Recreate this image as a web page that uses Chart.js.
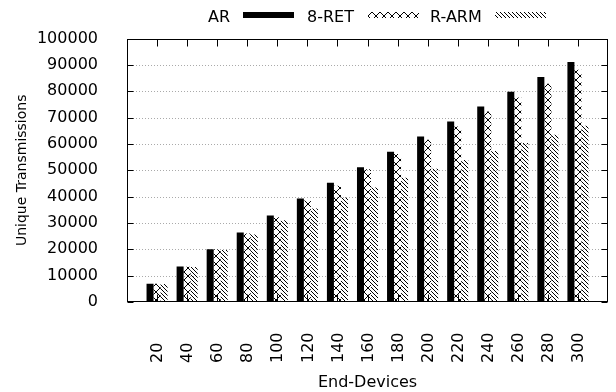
<!DOCTYPE html>
<html>
<head>
<meta charset="utf-8">
<script src="https://cdn.jsdelivr.net/npm/chart.js@4.4.0/dist/chart.umd.min.js"></script>
<style>
  html, body { margin: 0; padding: 0; background: #fff; }
</style>
</head>
<body>
<canvas id="grafico" width="616" height="392"></canvas>
<script>
// Dados
const dispositivos = ['20', '40', '60', '80', '100', '120', '140', '160', '180', '200', '220', '240', '260', '280', '300'];
const valoresAR = [6900, 13500, 20000, 26400, 32800, 39300, 45300, 51200, 57000, 62800, 68500, 74200, 79800, 85400, 91100];
const valores8RET = [6900, 13400, 19900, 26000, 32200, 38500, 44100, 50400, 56200, 61600, 66600, 72300, 77600, 82900, 88200];
const valoresRARM = [6800, 13300, 19700, 25600, 31000, 35500, 39700, 43500, 47200, 50600, 53900, 57300, 60400, 63500, 66900];
const ticksY = [0, 10000, 20000, 30000, 40000, 50000, 60000, 70000, 80000, 90000, 100000];

const fonte = { family: 'DejaVu Sans', size: 16 };
const fonteCss = '16px "DejaVu Sans"';

// Padrões de preenchimento (estilo gnuplot)
function padraoCruzado() {
    const c = document.createElement('canvas');
    c.width = 8; c.height = 8;
    const g = c.getContext('2d');
    g.fillStyle = '#000';
    for (let i = 0; i < 8; i++) {
        g.fillRect(i, i, 1, 1);
        g.fillRect(7 - i, i, 1, 1);
    }
    return g.createPattern(c, 'repeat');
}

function padraoDiagonal() {
    const c = document.createElement('canvas');
    c.width = 4; c.height = 4;
    const g = c.getContext('2d');
    g.fillStyle = '#000';
    for (let i = 0; i < 4; i++) {
        g.fillRect(i, i, 1, 1);
    }
    return g.createPattern(c, 'repeat');
}

const ctx = document.getElementById('grafico').getContext('2d');
const cruzado = padraoCruzado();
const diagonal = padraoDiagonal();

// eixo x com uma categoria vazia em cada ponta (faixa -1..15 do gnuplot)
const rotulos = [''].concat(dispositivos, ['']);
const comBordas = arr => [null].concat(arr, [null]);

// Moldura, grade, marcas, rótulos do eixo x e legenda
const molduraGnuplot = {
    id: 'molduraGnuplot',
    beforeDatasetsDraw(chart) {
        const { ctx, chartArea: a, scales: { y } } = chart;
        ctx.save();
        ctx.strokeStyle = '#aaa';
        ctx.lineWidth = 1;
        ctx.setLineDash([1, 2]);
        ticksY.slice(1, -1).forEach(v => {
            const py = Math.round(y.getPixelForValue(v)) + 0.5;
            ctx.beginPath();
            ctx.moveTo(a.left, py);
            ctx.lineTo(a.right, py);
            ctx.stroke();
        });
        ctx.restore();
    },
    afterDatasetsDraw(chart) {
        const { ctx, chartArea: a, scales: { x, y } } = chart;
        ctx.save();
        ctx.strokeStyle = '#000';
        ctx.lineWidth = 1;
        const L = a.left + 0.5, R = Math.round(a.right) - 0.5;
        const T = Math.round(a.top) + 0.5, B = Math.round(a.bottom) - 0.5;
        ctx.beginPath();
        ticksY.forEach(v => {
            const py = Math.round(y.getPixelForValue(v)) + 0.5;
            ctx.moveTo(L, py); ctx.lineTo(L + 6, py);
            ctx.moveTo(R, py); ctx.lineTo(R - 6, py);
        });
        dispositivos.forEach((d, i) => {
            const px = Math.round(x.getPixelForValue(i + 1)) + 0.5;
            ctx.moveTo(px, T); ctx.lineTo(px, T + 7);
            ctx.moveTo(px, B); ctx.lineTo(px, B - 7);
        });
        ctx.stroke();
        ctx.strokeRect(L, T, R - L, B - T);

        // rótulos do eixo x, girados 90 graus
        ctx.fillStyle = '#000';
        ctx.font = fonteCss;
        ctx.textAlign = 'left';
        ctx.textBaseline = 'middle';
        dispositivos.forEach((d, i) => {
            const px = x.getPixelForValue(i + 1);
            ctx.save();
            ctx.translate(px + 1, 363);
            ctx.rotate(-Math.PI / 2);
            ctx.fillText(d, 0, 0);
            ctx.restore();
        });

        // legenda: texto e depois a amostra
        ctx.textBaseline = 'alphabetic';
        const itens = [
            { texto: 'AR', tx: 208, bx: 243, fill: '#000' },
            { texto: '8-RET', tx: 307, bx: 368, fill: cruzado },
            { texto: 'R-ARM', tx: 430, bx: 495, fill: diagonal }
        ];
        itens.forEach(it => {
            ctx.fillStyle = '#000';
            ctx.fillText(it.texto, it.tx, 21.5);
            ctx.fillStyle = it.fill;
            ctx.fillRect(it.bx, 12, 51, 6);
        });
        ctx.restore();
    }
};

new Chart(ctx, {
    type: 'bar',
    data: {
        labels: rotulos,
        datasets: [
            { label: 'AR', data: comBordas(valoresAR), backgroundColor: '#000', borderWidth: 0 },
            { label: '8-RET', data: comBordas(valores8RET), backgroundColor: cruzado, borderWidth: 0 },
            { label: 'R-ARM', data: comBordas(valoresRARM), backgroundColor: diagonal, borderWidth: 0 }
        ]
    },
    options: {
        responsive: false,
        animation: false,
        layout: { padding: { top: 36, right: 8, left: 0, bottom: 0 } },
        datasets: { bar: { categoryPercentage: 0.7, barPercentage: 1.0 } },
        plugins: {
            legend: { display: false },
            tooltip: { enabled: false }
        },
        scales: {
            x: {
                offset: false,
                grid: { display: false },
                border: { display: false },
                ticks: { display: false },
                title: { display: true, text: 'End-Devices', color: '#000', font: fonte, padding: 0 },
                afterFit: s => { s.height = 90; }
            },
            y: {
                min: 0,
                max: 100000,
                grid: { display: false, drawTicks: false },
                border: { display: false },
                ticks: { stepSize: 10000, padding: 29, color: '#000', font: fonte, callback: v => String(v) },
                title: { display: true, text: 'Unique Transmissions', color: '#000', font: { family: 'DejaVu Sans', size: 14 }, padding: { top: 14, bottom: 0 } },
                afterFit: s => { s.width = 127; }
            }
        }
    },
    plugins: [molduraGnuplot]
});
</script>
</body>
</html>
